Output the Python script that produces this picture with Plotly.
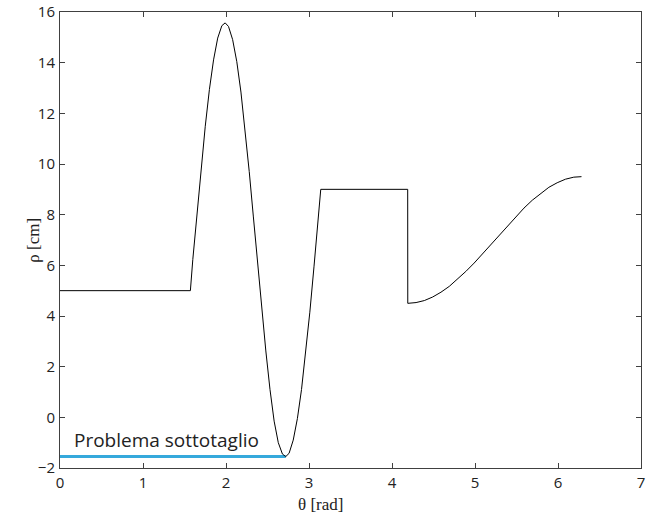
import plotly.graph_objects as go

# Profile rho(theta)
theta = [0.0, 1.571,
         1.60, 1.65, 1.70, 1.75, 1.80, 1.85, 1.90, 1.95, 1.99,
         2.03, 2.08, 2.13, 2.18, 2.23, 2.28, 2.33, 2.38, 2.43, 2.48,
         2.53, 2.58, 2.63, 2.68, 2.72, 2.76, 2.81, 2.86, 2.91, 2.96,
         3.01, 3.06, 3.10, 3.1416,
         4.189, 4.19,
         4.29, 4.39, 4.49, 4.59, 4.69, 4.79, 4.89, 4.99, 5.09, 5.19,
         5.29, 5.39, 5.49, 5.59, 5.69, 5.79, 5.89, 5.99, 6.09, 6.19, 6.283]
rho = [5.0, 5.0,
       6.23, 8.06, 9.85, 11.49, 12.94, 14.11, 14.97, 15.46, 15.57,
       15.43, 14.91, 14.04, 12.84, 11.37, 9.70, 7.91, 6.08, 4.29, 2.62,
       1.10, -0.15, -1.00, -1.45, -1.55, -1.42, -0.90, -0.05, 1.10, 2.52,
       4.15, 5.94, 7.39, 9.0,
       9.0, 4.5,
       4.53, 4.61, 4.75, 4.94, 5.17, 5.45, 5.76, 6.09, 6.45, 6.82,
       7.20, 7.57, 7.93, 8.26, 8.57, 8.84, 9.08, 9.26, 9.40, 9.48, 9.50]

# Undercut marker line
under_theta = [0.0, 2.72]
under_rho = [-1.55, -1.55]
under_label = "Problema sottotaglio"

x_ticks = [0, 1, 2, 3, 4, 5, 6, 7]
y_ticks = [-2, 0, 2, 4, 6, 8, 10, 12, 14, 16]

fig = go.Figure()
fig.add_trace(go.Scatter(x=under_theta, y=under_rho, mode="lines",
                         line=dict(color="#35A9DC", width=3), hoverinfo="skip"))
fig.add_trace(go.Scatter(x=theta, y=rho, mode="lines",
                         line=dict(color="#000000", width=1)))

fig.add_annotation(x=0.14, y=-0.9, xref="x", yref="y", text=under_label,
                   showarrow=False, xanchor="left", yanchor="middle",
                   font=dict(family="Open Sans", size=19, color="#222222"))

fig.add_annotation(x=-0.047, y=0.5, xref="paper", yref="paper", text="ρ [cm]",
                   showarrow=False, textangle=-90, xanchor="center", yanchor="middle",
                   font=dict(family="Liberation Serif", size=17, color="#222222"))
fig.add_annotation(x=0.448, y=-0.081, xref="paper", yref="paper", text="θ [rad]",
                   showarrow=False, xanchor="center", yanchor="middle",
                   font=dict(family="Liberation Serif", size=17, color="#222222"))

axis_common = dict(showgrid=False, zeroline=False, showline=True, linecolor="#404040",
                   linewidth=1, mirror="ticks", ticks="inside", ticklen=5,
                   tickcolor="#404040", ticklabeloverflow="allow", automargin=False,
                   tickfont=dict(family="Open Sans", size=15, color="#222222"))

fig.update_xaxes(range=[0, 7], tickvals=x_ticks, ticklabelstandoff=1, **axis_common)
fig.update_yaxes(range=[-2, 16], tickvals=y_ticks, ticklabelstandoff=1, **axis_common)

fig.update_layout(width=649, height=521, showlegend=False,
                  margin=dict(l=60, r=8, t=12, b=53),
                  plot_bgcolor="white", paper_bgcolor="white")

fig.write_html("out.html")
